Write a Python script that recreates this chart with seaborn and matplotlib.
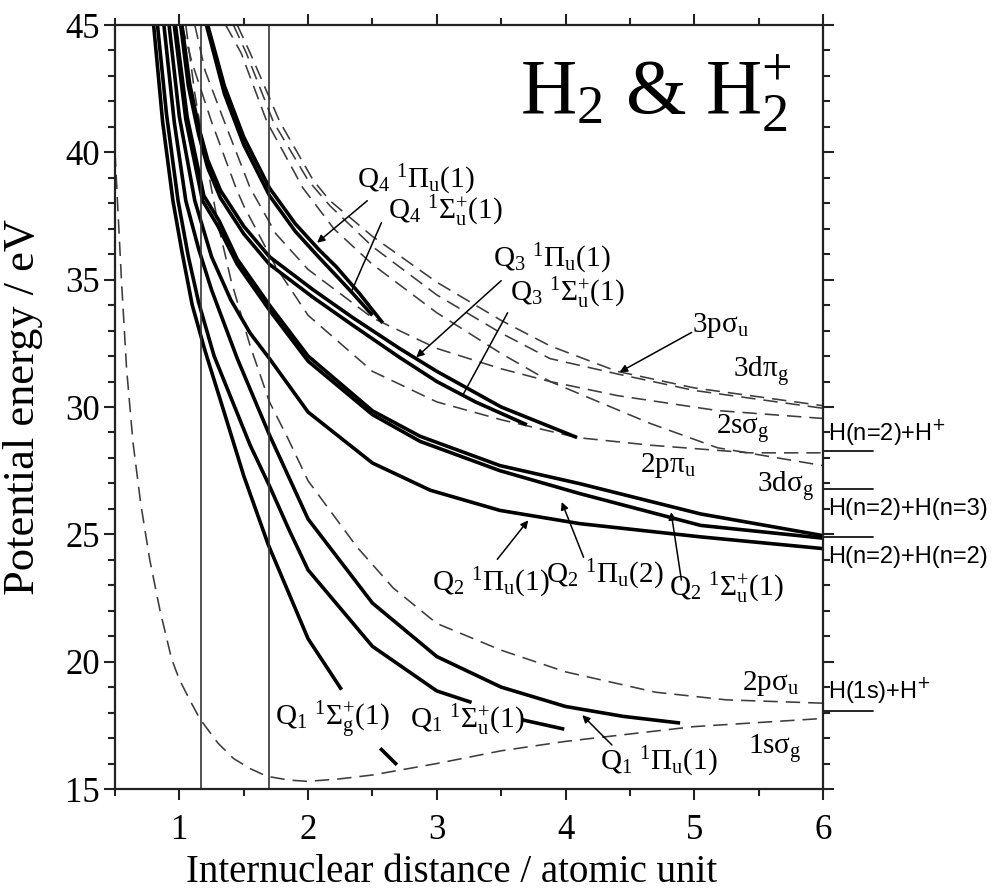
import numpy as np
import pandas as pd
import matplotlib
matplotlib.use("Agg")
import matplotlib.pyplot as plt
import seaborn as sns
from matplotlib.ticker import MultipleLocator

# ---------------- data ----------------
# H2 doubly excited Q states (solid)
q1_sg_R = [0.80, 0.87, 0.95, 1.02, 1.10, 1.20, 1.32, 1.50, 1.69, 2.00, 2.26]
q1_sg_E = [45.0, 41.2, 38.1, 36.1, 34.0, 32.2, 30.25, 27.3, 24.6, 20.9, 18.9]
q1_sg2_R = [2.56, 2.69]
q1_sg2_E = [16.6, 15.95]

q1_su_R = [0.83, 0.90, 0.99, 1.07, 1.15, 1.27, 1.41, 1.55, 1.70, 1.85, 2.00, 2.50, 3.00, 3.27]
q1_su_E = [45.0, 41.5, 38.1, 35.9, 34.1, 32.0, 30.25, 28.5, 26.9, 25.2, 23.6, 20.6, 18.85, 18.4]
q1_su2_R = [3.66, 3.99]
q1_su2_E = [17.72, 17.35]

q1_pu_R = [0.88, 0.96, 1.05, 1.15, 1.25, 1.45, 1.70, 2.00, 2.50, 3.00, 3.50, 4.00, 4.45, 4.89]
q1_pu_E = [45.0, 41.2, 38.1, 36.2, 34.6, 31.9, 28.9, 25.6, 22.3, 20.2, 19.0, 18.24, 17.85, 17.59]

q2_pu1_R = [0.92, 1.00, 1.12, 1.25, 1.40, 1.55, 1.70, 2.00, 2.50, 2.95, 3.49, 4.11, 5.05, 6.00]
q2_pu1_E = [45.0, 41.4, 38.1, 35.9, 34.2, 32.9, 31.9, 29.8, 27.8, 26.73, 25.94, 25.42, 24.9, 24.44]

q2_pu2_R = [0.96, 1.05, 1.18, 1.30, 1.45, 1.70, 2.00, 2.50, 2.87, 3.49, 4.11, 5.05, 6.00]
q2_pu2_E = [45.0, 41.3, 38.1, 37.1, 35.6, 33.8, 31.8, 29.7, 28.65, 27.5, 26.6, 25.35, 24.85]

q2_su_R = [0.97, 1.06, 1.19, 1.31, 1.45, 1.70, 2.00, 2.50, 2.87, 3.49, 4.11, 5.05, 6.00]
q2_su_E = [45.0, 41.4, 38.3, 37.3, 35.8, 34.0, 32.0, 29.85, 28.85, 27.7, 26.99, 25.8, 24.95]

q3_pu_R = [1.02, 1.08, 1.15, 1.22, 1.32, 1.50, 1.70, 2.04, 2.35, 2.71, 3.00, 3.50, 4.09]
q3_pu_E = [45.0, 42.7, 41.0, 39.7, 38.5, 37.1, 35.9, 34.6, 33.5, 32.3, 31.4, 30.0, 28.8]

q3_su_R = [1.01, 1.07, 1.15, 1.22, 1.32, 1.50, 1.70, 2.04, 2.35, 2.71, 3.00, 3.30, 3.70]
q3_su_E = [45.0, 42.6, 40.7, 39.4, 38.2, 36.8, 35.6, 34.3, 33.2, 31.95, 31.0, 30.2, 29.3]

q4_pu_R = [1.22, 1.35, 1.50, 1.70, 1.90, 2.08, 2.22, 2.40, 2.58]
q4_pu_E = [45.0, 42.6, 40.6, 38.6, 37.2, 36.2, 35.5, 34.45, 33.3]

q4_su_R = [1.21, 1.35, 1.50, 1.70, 1.90, 2.08, 2.22, 2.34, 2.50]
q4_su_E = [45.0, 42.3, 40.3, 38.3, 36.9, 35.9, 35.15, 34.5, 33.6]

# H2+ states (dashed)
s1sg_R = [0.50, 0.55, 0.59, 0.64, 0.70, 0.77, 0.85, 0.94, 1.00, 1.08, 1.16, 1.30, 1.42, 1.55,
          1.68, 1.85, 2.00, 2.25, 2.50, 3.00, 3.50, 4.00, 5.00, 6.00]
s1sg_E = [40.0, 35.0, 31.5, 28.6, 26.2, 24.0, 22.0, 20.1, 19.3, 18.5, 17.75, 16.8, 16.2, 15.8,
          15.5, 15.35, 15.3, 15.4, 15.55, 16.0, 16.5, 16.87, 17.45, 17.77]

s2pu_R = [1.05, 1.12, 1.20, 1.30, 1.40, 1.55, 1.70, 1.84, 2.00, 2.38, 2.66, 3.00, 3.50, 4.00,
          4.70, 5.25, 6.00]
s2pu_E = [45.0, 42.3, 39.9, 37.2, 35.0, 32.4, 30.2, 28.8, 27.1, 24.5, 22.9, 21.5, 20.45, 19.6,
          18.8, 18.5, 18.37]

s2ppu_R = [1.02, 1.10, 1.25, 1.44, 1.50, 1.75, 2.00, 2.50, 3.00, 3.50, 4.09, 4.66, 5.43, 6.00]
s2ppu_E = [45.0, 43.5, 41.2, 38.6, 37.9, 35.5, 33.6, 31.4, 30.2, 29.5, 28.8, 28.5, 28.2, 28.2]

s2sg_R = [1.12, 1.20, 1.35, 1.55, 1.75, 2.00, 2.50, 3.00, 3.50, 3.88, 4.40, 5.18, 6.00]
s2sg_E = [45.0, 43.2, 41.2, 38.6, 36.8, 35.4, 33.5, 32.3, 31.5, 31.0, 30.45, 29.86, 29.55]

s3dsg_R = [1.36, 1.48, 1.68, 1.96, 2.20, 2.50, 3.00, 3.50, 3.88, 4.66, 5.18, 6.00]
s3dsg_E = [45.0, 43.9, 41.2, 38.6, 37.0, 35.6, 33.7, 32.1, 31.0, 29.35, 28.4, 27.7]

s3psu_R = [1.42, 1.52, 1.73, 2.00, 2.17, 2.50, 3.00, 3.50, 3.88, 4.40, 5.00, 6.00]
s3psu_E = [45.0, 43.9, 41.2, 38.9, 37.9, 36.3, 34.4, 32.9, 31.9, 31.3, 30.65, 29.95]

s3dpg_R = [1.45, 1.55, 1.78, 2.04, 2.17, 2.50, 3.00, 3.50, 3.88, 4.40, 5.00, 6.00]
s3dpg_E = [45.0, 43.9, 41.2, 38.9, 38.1, 36.7, 34.9, 33.4, 32.4, 31.4, 30.75, 30.05]

# Franck-Condon region and dissociation limits
fc_R = [1.17, 1.70]
asym_E = [28.28, 26.77, 24.88, 18.08]
asym_labels = ["H(n=2)+H$^{+}$", "H(n=2)+H(n=3)", "H(n=2)+H(n=2)", "H(1s)+H$^{+}$"]
asym_label_E = [29.0, 25.98, 24.1, 18.88]

x_ticks = [1, 2, 3, 4, 5, 6]
y_ticks = [15, 20, 25, 30, 35, 40, 45]

# ---------------- style ----------------
sns.set_theme(style="ticks")
plt.rcParams['font.family'] = ['Liberation Serif', 'DejaVu Serif']
plt.rcParams['mathtext.fontset'] = 'custom'
plt.rcParams['mathtext.rm'] = 'Liberation Serif'
plt.rcParams['mathtext.it'] = 'Liberation Serif:italic'
plt.rcParams['mathtext.bf'] = 'Liberation Serif:bold'
for k in ['text.color', 'axes.labelcolor', 'xtick.color', 'ytick.color', 'axes.edgecolor']:
    plt.rcParams[k] = 'black'

fig = plt.figure(figsize=(9.92, 8.9), dpi=100)
ax = fig.add_axes([115/992, 1-789/890, (823-115)/992, (789-25)/890])

solid = [(q1_sg_R, q1_sg_E), (q1_sg2_R, q1_sg2_E), (q1_su_R, q1_su_E), (q1_su2_R, q1_su2_E),
         (q1_pu_R, q1_pu_E), (q2_pu1_R, q2_pu1_E), (q2_pu2_R, q2_pu2_E), (q2_su_R, q2_su_E),
         (q3_pu_R, q3_pu_E), (q3_su_R, q3_su_E), (q4_pu_R, q4_pu_E), (q4_su_R, q4_su_E)]
dashed = [(s1sg_R, s1sg_E), (s2pu_R, s2pu_E), (s2ppu_R, s2ppu_E), (s2sg_R, s2sg_E),
          (s3dsg_R, s3dsg_E), (s3psu_R, s3psu_E), (s3dpg_R, s3dpg_E)]

for R, E in dashed:
    sns.lineplot(x=R, y=E, ax=ax, color='#3c3c3c', lw=1.15, linestyle=(0, (9, 5)),
                 estimator=None, sort=False, legend=False)
for R, E in solid:
    sns.lineplot(x=R, y=E, ax=ax, color='black', lw=2.6, estimator=None, sort=False,
                 legend=False, solid_capstyle='butt', solid_joinstyle='round')

for r in fc_R:
    ax.axvline(r, color='#333333', lw=1.2)

for e, lab, le in zip(asym_E, asym_labels, asym_label_E):
    ax.plot([1.0, 1.07], [e, e], transform=ax.get_yaxis_transform(), clip_on=False,
            color='black', lw=1.2)
    ax.text(1.007, le, lab, transform=ax.get_yaxis_transform(), fontsize=17,
            fontfamily='Liberation Sans', math_fontfamily='dejavusans', ha='left', va='center')

ax.set_xlim(0.5, 6)
ax.set_ylim(15, 45)
ax.set_xticks(x_ticks)
ax.set_yticks(y_ticks)
ax.xaxis.set_minor_locator(MultipleLocator(0.5))
ax.yaxis.set_minor_locator(MultipleLocator(1))
ax.tick_params(which='both', direction='out', top=True, right=True, labeltop=False,
               labelright=False, width=1.5, color='#222222')
ax.tick_params(which='major', length=8, labelsize=25)
ax.tick_params(axis='x', which='major', pad=10)
ax.tick_params(axis='y', which='major', pad=3)
ax.tick_params(which='minor', length=5)
for sp in ax.spines.values():
    sp.set_linewidth(1.6)
    sp.set_color('#222222')
ax.set_xlabel("Internuclear distance / atomic unit", fontsize=28)
ax.xaxis.set_label_coords(0.476, -0.085)
ax.set_ylabel("Potential energy / eV", fontsize=32)
ax.yaxis.set_label_coords(-0.102, 0.50)

# title
ax.text(4.70, 41.5, "H$_2$ & H$_2^{+}$", fontsize=56, ha='center', va='baseline')

# state labels
labels = [
    (2.38, 38.9, "Q$_4$ $^1$Π$_\\mathrm{u}$(1)"),
    (2.62, 37.7, "Q$_4$ $^1$Σ$_\\mathrm{u}^{+}$(1)"),
    (3.44, 35.8, "Q$_3$ $^1$Π$_\\mathrm{u}$(1)"),
    (3.57, 34.45, "Q$_3$ $^1$Σ$_\\mathrm{u}^{+}$(1)"),
    (4.98, 33.2, "3pσ$_\\mathrm{u}$"),
    (5.30, 31.4, "3dπ$_\\mathrm{g}$"),
    (5.17, 29.15, "2sσ$_\\mathrm{g}$"),
    (4.58, 27.7, "2pπ$_\\mathrm{u}$"),
    (5.49, 26.9, "3dσ$_\\mathrm{g}$"),
    (2.96, 23.1, "Q$_2$ $^1$Π$_\\mathrm{u}$(1)"),
    (3.85, 23.4, "Q$_2$ $^1$Π$_\\mathrm{u}$(2)"),
    (4.80, 22.9, "Q$_2$ $^1$Σ$_\\mathrm{u}^{+}$(1)"),
    (5.37, 19.15, "2pσ$_\\mathrm{u}$"),
    (5.42, 16.6, "1sσ$_\\mathrm{g}$"),
    (1.74, 17.7, "Q$_1$ $^1$Σ$_\\mathrm{g}^{+}$(1)"),
    (2.79, 17.7, "Q$_1$ $^1$Σ$_\\mathrm{u}^{+}$(1)"),
    (4.27, 16.05, "Q$_1$ $^1$Π$_\\mathrm{u}$(1)"),
]
for x, y, s in labels:
    ax.text(x, y, s, fontsize=21, ha='left', va='center')

# pointer lines
pointers = [
    ((2.46, 38.1), (2.07, 36.45), True),
    ((2.57, 37.24), (2.34, 34.57), False),
    ((3.50, 34.96), (2.84, 31.95), True),
    ((3.55, 33.7), (3.20, 30.45), False),
    ((4.98, 32.93), (4.42, 31.37), True),
    ((3.47, 24.02), (3.71, 25.55), True),
    ((4.14, 24.1), (3.97, 26.27), True),
    ((4.90, 23.2), (4.82, 25.87), True),
    ((4.36, 16.73), (4.13, 17.9), True),
]
for start, tip, head in pointers:
    ax.annotate('', xy=tip, xytext=start,
                arrowprops=dict(arrowstyle='-|>' if head else '-', color='black', lw=1.1,
                                mutation_scale=11, shrinkA=0, shrinkB=0))

fig.savefig("out.png", dpi=100)
